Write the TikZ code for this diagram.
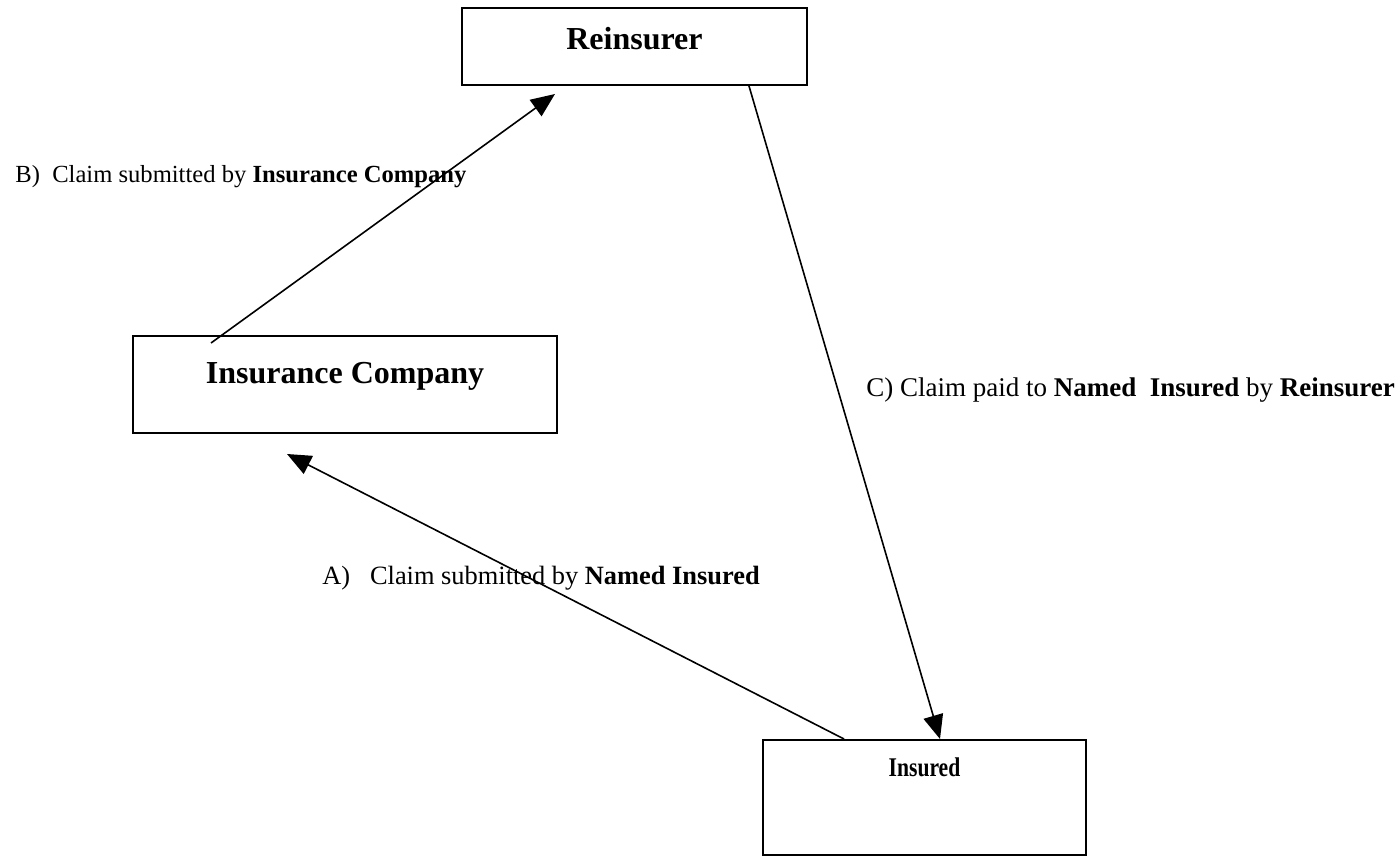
\documentclass[tikz,border=0pt]{standalone}
\usepackage{fontspec}
\setmainfont{Liberation Serif}
\usetikzlibrary{arrows.meta,calc}

\begin{document}
\begin{tikzpicture}[x=0.5pt, y=-0.5pt,
    partybox/.style={draw, line width=1pt, inner sep=0pt},
    partyname/.style={anchor=base, font=\fontsize{16}{19}\selectfont\bfseries},
    steptext/.style={anchor=base west, inner sep=0pt, font=\fontsize{12.6}{15}\selectfont},
    claim/.style={line width=0.8pt, -{Triangle[length=12pt, width=10pt]}}]

    % Fix the page to the size of the scan
    \useasboundingbox (0,0) rectangle (1397,856);

    % The three parties
    \node[partybox, minimum width=172.5pt, minimum height=38.5pt] (reins) at (634.5,46.5) {};
    \node[partybox, minimum width=212pt, minimum height=48.5pt] (insco) at (345,384.5) {};
    \node[partybox, minimum width=161.5pt, minimum height=57.5pt] (insd) at (924.5,797.5) {};

    % Names at the top of each box
    \node[partyname] (reinsT) at ($(reins.north)+(0,43)$) {Reinsurer};
    \node[partyname] (inscoT) at ($(insco.north)+(0,48)$) {Insurance Company};
    \node[partyname, font=\fontsize{13.5}{16}\selectfont\bfseries] (insdT) at ($(insd.north)+(0,37)$) {\scalebox{0.8}[1]{Insured}};

    % Ends of the connectors
    \coordinate (aFrom) at ($(insd.north west)+(82,0)$);
    \coordinate (aTo)   at ($(insco.south west)+(155,20)$);
    \coordinate (bFrom) at ($(insco.north west)+(79,8)$);
    \coordinate (bTo)   at ($(reins.south west)+(94,8)$);
    \coordinate (cFrom) at ($(reins.south west)+(288,0)$);
    \coordinate (cTo)   at ($(insd.north west)+(178,0)$);

    % A) insured -> insurance company
    \draw[claim] (aFrom) -- (aTo);
    % B) insurance company -> reinsurer
    \draw[claim] (bFrom) -- (bTo);
    % C) reinsurer -> insured
    \draw[claim] (cFrom) -- (cTo);

    % Step labels
    \node[steptext, font=\fontsize{12.3}{15}\selectfont] (bText) at (15,183) {B)\ \ Claim submitted by \textbf{Insurance Company}};
    \node[steptext, font=\fontsize{13.2}{15}\selectfont] (aText) at (322,584) {A)\ \ \ Claim submitted by \textbf{Named Insured}};
    \node[steptext, font=\fontsize{13.5}{16}\selectfont] (cText) at (866,396) {C) Claim paid to \textbf{Named\ \ Insured} by \textbf{Reinsurer}};
\end{tikzpicture}
\end{document}
